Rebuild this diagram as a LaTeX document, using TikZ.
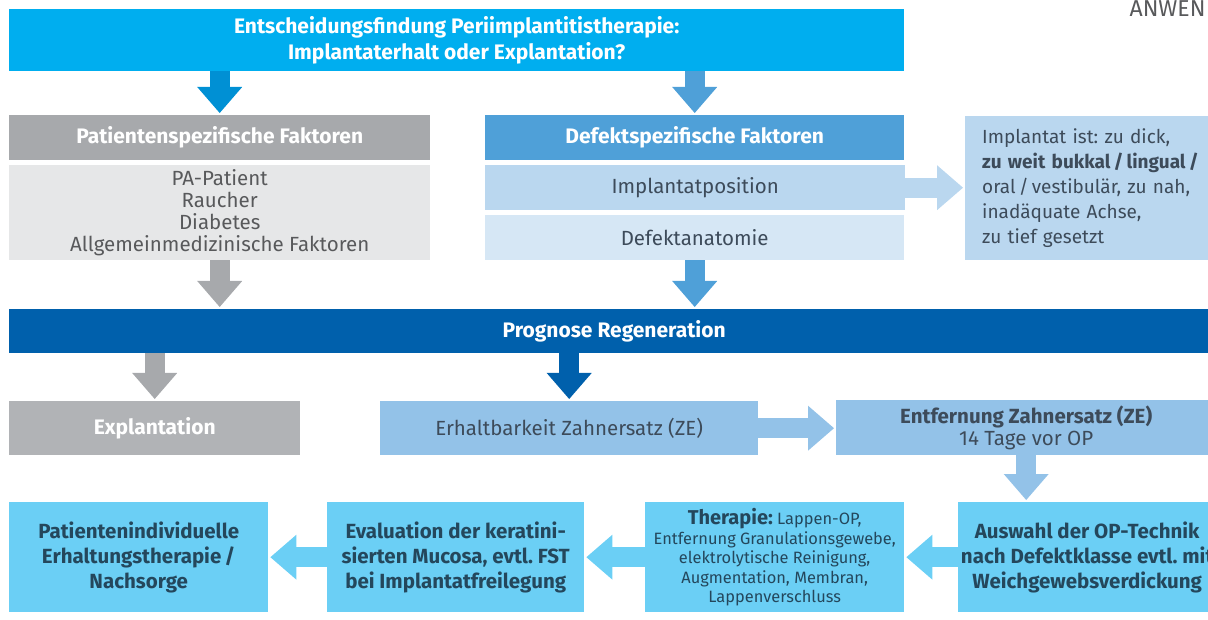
\documentclass[tikz,border=0pt]{standalone}
\usepackage{fontspec}
\setmainfont{Fira Sans}
\usetikzlibrary{arrows.meta,positioning}
\definecolor{fragecyan}{HTML}{00AEEF}
\definecolor{pfeilcyan}{HTML}{0090D4}
\definecolor{patgrau}{HTML}{A7A9AC}
\definecolor{pathell}{HTML}{E6E7E8}
\definecolor{defblau}{HTML}{4FA0D8}
\definecolor{posblau}{HTML}{BAD7EF}
\definecolor{anablau}{HTML}{D6E7F5}
\definecolor{progblau}{HTML}{0060AC}
\definecolor{explgrau}{HTML}{B1B3B6}
\definecolor{erhblau}{HTML}{93C2E8}
\definecolor{untencyan}{HTML}{6BCFF5}
\definecolor{textgrau}{HTML}{58595B}
\definecolor{textblau}{HTML}{3D4B5A}
\definecolor{textunten}{HTML}{24475C}
\tikzset{
box/.style={anchor=north west,inner sep=0pt,align=center,font=\fontsize{20.5}{22}\selectfont},
kopf/.style={box,text=white,font=\fontsize{21}{22}\selectfont\bfseries},
unten/.style={box,fill=untencyan,text=textunten,minimum height=110,font=\fontsize{20.5}{25}\selectfont\bfseries},
blk/.style={->,line width=20pt,draw=#1,shorten >=2pt}
}
\frenchspacing
\begin{document}
\begin{tikzpicture}[>={Triangle[length=26pt 0,width=45pt 0,line width=0pt 0]},x=1pt,y=-1pt]
\useasboundingbox (0,0) rectangle (1208,620);
\clip (0,0) rectangle (1208,620);
\node[anchor=base east,text=textgrau,font=\fontsize{23}{24}\selectfont] (kopfzeile) at (1209,17) {ANWEN};
% obere Reihe
\node[kopf,fill=fragecyan,minimum width=895,minimum height=62,font=\fontsize{21}{26}\selectfont\bfseries] (frage) at (9,9) {Entscheidungsfindung Periimplantitistherapie:\\Implantaterhalt oder Explantation?};
\node[kopf,fill=patgrau,minimum width=421,minimum height=45] (patkopf) at (9,115) {Patientenspezifische Faktoren};
\node[box,fill=pathell,text=textgrau,minimum width=421,minimum height=95] (patliste) at (9,165) {PA-Patient\\Raucher\\Diabetes\\Allgemeinmedizinische Faktoren};
\node[kopf,fill=defblau,minimum width=419,minimum height=45] (defkopf) at (485,115) {Defektspezifische Faktoren};
\node[box,fill=posblau,text=textblau,minimum width=420,minimum height=45] (implpos) at (485,165) {Implantatposition};
\node[box,fill=anablau,text=textblau,minimum width=419,minimum height=45] (defana) at (485,215) {Defektanatomie};
\node[box,fill=posblau,text=textblau,inner xsep=17pt,text width=240,minimum height=144,align=left,font=\fontsize{19}{25}\selectfont] (implinfo) at (965,116) {Implantat ist: zu dick,\\\textbf{zu weit bukkal\,/\,lingual\,/}\\oral\,/\,vestibulär, zu nah,\\inadäquate Achse,\\zu tief gesetzt};
\node[kopf,fill=progblau,minimum width=1210,minimum height=44] (prognose) at (9,309) {Prognose Regeneration};
% mittlere Reihe
\node[kopf,fill=explgrau,minimum width=291,minimum height=54] (explant) at (9,401) {Explantation};
\node[box,fill=erhblau,text=textblau,minimum width=378,minimum height=54] (erhalt) at (380,401) {Erhaltbarkeit Zahnersatz (ZE)};
\node[box,fill=erhblau,text=textblau,minimum width=380,minimum height=55] (entfern) at (836,400) {\textbf{Entfernung Zahnersatz (ZE)}\\14 Tage vor OP};
% untere Reihe
\node[unten,minimum width=259] (nachsorge) at (9,502) {Patientenindividuelle\\Erhaltungstherapie\,/\\Nachsorge};
\node[unten,minimum width=257] (mucosa) at (327,502) {Evaluation der keratini-\\sierten Mucosa, evtl. FST\\bei Implantatfreilegung};
\node[unten,minimum width=259,font=\fontsize{16.4}{19.5}\selectfont] (therapie) at (645,502) {{\fontsize{20}{19.5}\selectfont\bfseries Therapie:} Lappen-OP,\\Entfernung Granulationsgewebe,\\elektrolytische Reinigung,\\Augmentation, Membran,\\Lappenverschluss};
\node[unten,minimum width=258] (auswahl) at (958,502) {Auswahl der OP-Technik\\nach Defektklasse evtl. mit\\Weichgewebsverdickung};

\draw[blk=pfeilcyan] (frage.south -| patkopf.north) -- (patkopf.north);
\draw[blk=defblau] (frage.south -| defkopf.north) -- (defkopf.north);
\draw[blk=posblau] (implpos.east) -- (implpos.east -| implinfo.west);
\draw[blk=patgrau] (patliste.south) -- (patliste.south |- prognose.north);
\draw[blk=defblau] (defana.south) -- (defana.south |- prognose.north);
\draw[blk=patgrau] (prognose.south -| explant.north) -- (explant.north);
\draw[blk=progblau] (prognose.south -| erhalt.north) -- (erhalt.north);
\draw[blk=erhblau] (erhalt.east) -- (erhalt.east -| entfern.west);
\draw[blk=erhblau] (entfern.south) -- (entfern.south |- auswahl.north);
\draw[blk=untencyan] (auswahl.west) -- (therapie.east);
\draw[blk=untencyan] (therapie.west) -- (mucosa.east);
\draw[blk=untencyan] (mucosa.west) -- (nachsorge.east);
\end{tikzpicture}
\end{document}
